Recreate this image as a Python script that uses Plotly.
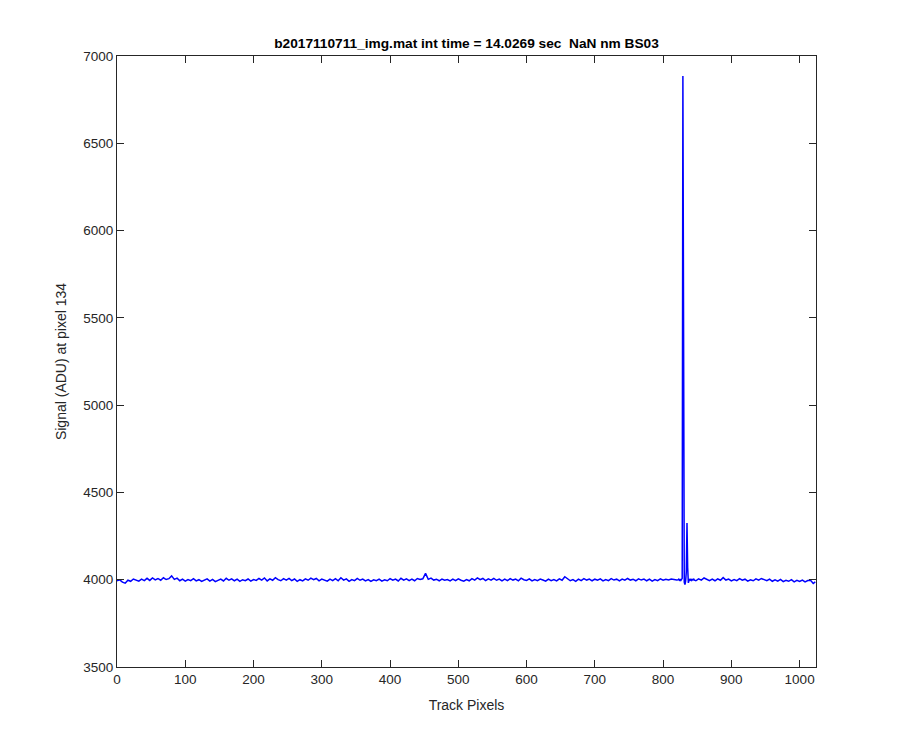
import plotly.graph_objects as go

# Baseline samples every 4 track pixels (x = 0, 4, ..., 1020) plus the last pixel
noise_x = list(range(0, 1024, 4)) + [1023]
noise_y = [
    3994, 3999, 3986, 3980, 3997, 3991, 4004, 3998, 3992, 4003, 3995, 4008, 3996, 4010, 3999, 4007,
    3997, 4011, 4001, 4006, 4022, 4002, 4009, 3994, 4003, 3992, 4001, 3995, 4006, 3993, 4000, 3990,
    3999, 4005, 3992, 4002, 3989, 3998, 4004, 3993, 4008, 3997, 4005, 3994, 4003, 3991, 4000, 3995,
    4004, 3992, 4001, 3996, 4007, 3998, 4010, 3993, 4005, 3997, 4012, 4000, 3994, 4006, 3998, 4008,
    3995, 4004, 3991, 4000, 3993, 4005, 3997, 4009, 4000, 4007, 3994, 4004, 3998, 3992, 4003, 3995,
    4006, 3994, 4011, 3998, 4005, 3991, 4001, 3995, 4008, 3997, 4004, 3993, 4001, 3990, 3999, 3994,
    4003, 3992, 4000, 3994, 4006, 3997, 4004, 3993, 4008, 3998, 4005, 3995, 4003, 3994, 4007, 4001,
    4005, 4036, 4002, 4009, 3998, 4003, 3994, 4004, 3997, 4001, 3993, 4003, 3995, 4005, 3997, 3992,
    4001, 3994, 4006, 3998, 4010, 4000, 4007, 3995, 4005, 3998, 4008, 3997, 4004, 3993, 4003, 3995,
    4006, 3998, 4004, 3994, 4009, 4000, 3996, 4005, 3993, 4001, 3995, 4004, 3998, 3992, 4003, 3995,
    4001, 3993, 4005, 3997, 4017, 4003, 3994, 4001, 3991, 4003, 3995, 4006, 3998, 4004, 3994, 4003,
    3997, 4005, 3993, 4001, 3995, 4006, 3998, 4003, 3993, 4004, 3997, 4007, 3998, 4003, 3994, 4005,
    3998, 4004, 3994, 4003, 3992, 4001, 3995, 4005, 3997, 4003, 3998, 4004, 4000, 3998, 4001, 3999,
    4000, 3998, 4001, 3997, 3994, 4005, 3998, 4010, 4003, 3995, 4003, 3994, 4005, 3997, 4012, 3998,
    4004, 3993, 4001, 3995, 4006, 3997, 4003, 3992, 4000, 3994, 4005, 3997, 4007, 3999, 3994, 4003,
    3991, 3999, 3992, 4002, 3989, 3997, 3991, 4000, 3988, 3996, 3990, 3998, 3987, 3995, 3997, 3979,
    3987,
]

# Per-pixel detail around the emission spike
spike_x = list(range(822, 847))
spike_y = [
    3999, 4003, 3997, 4001, 3996, 4002, 4008, 6885, 4040, 3986, 3972, 3992, 4045,
    4325, 4070, 3982, 3995, 4004, 3998, 4002, 3996, 4001, 3999, 4003, 3997,
]

x_ticks = [0, 100, 200, 300, 400, 500, 600, 700, 800, 900, 1000]
y_ticks = [3500, 4000, 4500, 5000, 5500, 6000, 6500, 7000]

merged = dict(zip(noise_x, noise_y))
merged.update(dict(zip(spike_x, spike_y)))
xs = sorted(merged)
ys = [merged[k] for k in xs]

ink = "#262626"
fnt = "Liberation Sans, Arial"
fig = go.Figure(go.Scatter(x=xs, y=ys, mode="lines",
                           line=dict(color="#0000FF", width=1.5)))

axis_common = dict(showgrid=False, zeroline=False, showline=True, linecolor=ink,
                   linewidth=1, mirror="ticks", ticks="inside", ticklen=7,
                   tickcolor=ink, tickwidth=1, automargin=False,
                   tickfont=dict(family=fnt, size=13.5, color=ink))

fig.update_layout(
    width=892, height=742,
    margin=dict(l=109, r=84, t=48, b=83, autoexpand=False),
    paper_bgcolor="white", plot_bgcolor="white",
    showlegend=False,
    font=dict(family=fnt, size=13.5, color=ink),
    title=dict(text="<b>b2017110711_img.mat int time = 14.0269 sec  NaN nm BS03</b>",
               x=0.5, xref="paper", xanchor="center",
               y=1 - 35 / 742, yref="container", yanchor="middle", automargin=False,
               font=dict(family=fnt, size=13.7, color="black")),
    xaxis=dict(range=[0, 1024], tickvals=x_ticks, ticktext=[str(v) for v in x_ticks],
               title=dict(text="Track Pixels", standoff=13,
                          font=dict(family=fnt, size=14, color=ink)), **axis_common),
    yaxis=dict(range=[3500, 7000], tickvals=y_ticks, ticktext=[str(v) for v in y_ticks],
               title=dict(text="Signal (ADU) at pixel 134", standoff=13,
                          font=dict(family=fnt, size=14, color=ink)), **axis_common),
)

fig.write_html("out.html")
